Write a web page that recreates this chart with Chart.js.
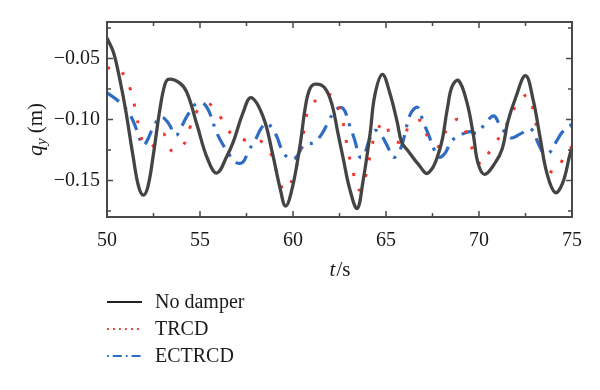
<!DOCTYPE html>
<html>
<head>
<meta charset="utf-8">
<script src="https://cdn.jsdelivr.net/npm/chart.js@4.4.1/dist/chart.umd.min.js"></script>
<style>
  html, body { margin: 0; padding: 0; background: #fff; }
  #wrap { width: 600px; height: 390px; position: relative; }
</style>
</head>
<body>
<div id="wrap"><canvas id="chart"></canvas></div>
<script>
// time samples (s) and displacement q_y (m)
const noDamperT = [50.0, 50.35, 50.7, 51.0, 51.4, 51.7, 51.95, 52.2, 52.5, 52.85, 53.1, 53.3, 53.9, 54.3, 54.85, 55.4, 55.9, 56.45, 56.8, 57.3, 57.75, 58.4, 58.9, 59.3, 59.6, 59.95, 60.4, 60.65, 60.9, 61.2, 61.7, 62.1, 62.4, 62.7, 63.05, 63.45, 63.75, 64.15, 64.4, 64.8, 65.2, 65.6, 65.85, 66.2, 66.7, 67.25, 67.9, 68.3, 68.55, 68.9, 69.35, 69.7, 69.95, 70.3, 70.85, 71.25, 71.55, 71.95, 72.5, 72.9, 73.3, 73.65, 74.1, 74.5, 74.9, 75.0];
const noDamperQ = [-0.033, -0.045, -0.068, -0.092, -0.130, -0.155, -0.162, -0.155, -0.128, -0.091, -0.072, -0.067, -0.070, -0.078, -0.105, -0.132, -0.144, -0.130, -0.118, -0.095, -0.082, -0.098, -0.128, -0.156, -0.171, -0.157, -0.119, -0.091, -0.075, -0.071, -0.074, -0.088, -0.110, -0.132, -0.157, -0.173, -0.152, -0.111, -0.080, -0.063, -0.078, -0.102, -0.119, -0.126, -0.136, -0.144, -0.124, -0.091, -0.073, -0.068, -0.086, -0.113, -0.136, -0.145, -0.136, -0.124, -0.102, -0.083, -0.064, -0.083, -0.116, -0.144, -0.160, -0.152, -0.128, -0.124];

const trcdT = [50.0, 50.4, 50.8, 51.25, 51.5, 51.7, 51.95, 52.3, 52.7, 53.05, 53.5, 54.1, 54.45, 54.85, 55.45, 56.1, 56.7, 57.45, 58.3, 58.9, 59.15, 59.45, 59.7, 60.0, 60.25, 60.5, 60.65, 60.9, 61.5, 61.8, 62.25, 62.6, 62.8, 62.95, 63.2, 63.4, 63.6, 63.76, 64.0, 64.2, 64.45, 64.95, 65.3, 65.9, 66.25, 66.9, 67.25, 67.9, 68.3, 68.9, 69.4, 69.75, 70.15, 70.65, 71.2, 71.65, 72.1, 72.65, 72.95, 73.15, 73.4, 73.6, 74.1, 74.6, 75.0];
const trcdQ = [-0.058, -0.057, -0.061, -0.075, -0.090, -0.105, -0.119, -0.123, -0.118, -0.112, -0.126, -0.121, -0.107, -0.093, -0.087, -0.098, -0.112, -0.117, -0.118, -0.131, -0.145, -0.157, -0.158, -0.147, -0.135, -0.118, -0.103, -0.090, -0.081, -0.079, -0.083, -0.097, -0.111, -0.126, -0.140, -0.155, -0.158, -0.155, -0.140, -0.126, -0.111, -0.102, -0.116, -0.118, -0.105, -0.101, -0.114, -0.122, -0.107, -0.100, -0.114, -0.128, -0.137, -0.124, -0.112, -0.099, -0.086, -0.080, -0.095, -0.110, -0.124, -0.139, -0.143, -0.130, -0.122];

const ectrcdT = [50.0, 50.7, 51.1, 51.4, 51.7, 51.9, 52.1, 52.5, 52.9, 53.3, 53.7, 54.0, 54.35, 54.8, 55.2, 55.5, 55.85, 56.1, 56.5, 56.9, 57.3, 57.6, 58.0, 58.3, 58.6, 59.1, 59.35, 59.7, 60.1, 60.6, 61.1, 61.5, 61.9, 62.3, 62.7, 63.0, 63.3, 63.6, 63.8, 64.1, 64.4, 64.7, 65.05, 65.4, 65.75, 66.0, 66.3, 66.7, 67.0, 67.3, 67.6, 67.85, 68.2, 68.5, 69.1, 69.5, 69.9, 70.4, 70.8, 71.1, 71.7, 72.2, 72.8, 73.2, 73.5, 73.8, 74.2, 74.5, 75.0];
const ectrcdQ = [-0.078, -0.086, -0.093, -0.101, -0.113, -0.121, -0.119, -0.106, -0.098, -0.103, -0.113, -0.106, -0.096, -0.087, -0.087, -0.094, -0.109, -0.117, -0.127, -0.135, -0.135, -0.126, -0.116, -0.107, -0.103, -0.113, -0.123, -0.131, -0.132, -0.121, -0.119, -0.113, -0.102, -0.092, -0.091, -0.103, -0.116, -0.131, -0.130, -0.117, -0.109, -0.112, -0.121, -0.131, -0.125, -0.113, -0.096, -0.090, -0.102, -0.113, -0.125, -0.131, -0.127, -0.118, -0.112, -0.110, -0.111, -0.102, -0.097, -0.104, -0.115, -0.112, -0.108, -0.120, -0.128, -0.127, -0.117, -0.110, -0.104];

const seriesNames = ['No damper', 'TRCD', 'ECTRCD'];
const xTicks = [50, 55, 60, 65, 70, 75];
const xMinor = [52.5, 57.5, 62.5, 67.5, 72.5];
const yTicks = [-0.15, -0.10, -0.05];
const yMinor = [-0.175, -0.125, -0.075, -0.025];

const serif = '"Liberation Serif", "DejaVu Serif", serif';
const axisColor = '#4a4a4a';
const blackLine = '#444444';
const redDot = '#f2382c';
const blueLine = '#2f6cc4';

function toPoints(ts, qs) {
    return ts.map((t, i) => ({ x: t, y: qs[i] }));
}

// frame, inward ticks, axis titles and legend
const decorPlugin = {
    id: 'decor',
    afterDatasetsDraw(chart) {
        const ctx = chart.ctx;
        const a = chart.chartArea;
        const xs = chart.scales.x;
        const ys = chart.scales.y;
        ctx.save();
        ctx.strokeStyle = axisColor;
        ctx.lineWidth = 2;
        ctx.strokeRect(a.left, a.top, a.right - a.left, a.bottom - a.top);

        ctx.lineWidth = 1.5;
        ctx.beginPath();
        const tickX = (vals, len) => vals.forEach(v => {
            const px = xs.getPixelForValue(v);
            ctx.moveTo(px, a.bottom); ctx.lineTo(px, a.bottom - len);
            ctx.moveTo(px, a.top); ctx.lineTo(px, a.top + len);
        });
        const tickY = (vals, len) => vals.forEach(v => {
            const py = ys.getPixelForValue(v);
            ctx.moveTo(a.left, py); ctx.lineTo(a.left + len, py);
            ctx.moveTo(a.right, py); ctx.lineTo(a.right - len, py);
        });
        tickX(xTicks, 6); tickX(xMinor, 4);
        tickY(yTicks, 6); tickY(yMinor, 4);
        ctx.stroke();

        // x title: t/s
        ctx.fillStyle = '#1a1a1a';
        ctx.textBaseline = 'middle';
        const xt1 = 'italic 21px ' + serif, xt2 = '21px ' + serif;
        ctx.font = xt1; const w1 = ctx.measureText('t').width;
        ctx.font = xt2; const w2 = ctx.measureText('/s').width;
        let sx = (a.left + a.right) / 2 - (w1 + w2) / 2;
        ctx.font = xt1; ctx.fillText('t', sx, 270);
        ctx.font = xt2; ctx.fillText('/s', sx + w1 + 1, 270);

        // y title: q_y (m)
        ctx.save();
        ctx.translate(36, (a.top + a.bottom) / 2 + 10);
        ctx.rotate(-Math.PI / 2);
        const f1 = 'italic 22px ' + serif, f2 = 'italic 15px ' + serif, f3 = '21px ' + serif;
        ctx.font = f1; const qW = ctx.measureText('q').width;
        ctx.font = f2; const sW = ctx.measureText('y').width;
        ctx.font = f3; const mW = ctx.measureText(' (m)').width;
        let tx = -(qW + sW + mW) / 2;
        ctx.font = f1; ctx.fillText('q', tx, 0);
        ctx.font = f2; ctx.fillText('y', tx + qW, 6);
        ctx.font = f3; ctx.fillText(' (m)', tx + qW + sW, 0);
        ctx.restore();

        // legend
        const rows = [302, 329, 356];
        const styles = [
            { color: '#222', width: 1.8, dash: [] },
            { color: redDot, width: 1.8, dash: [1.8, 4.2] },
            { color: blueLine, width: 1.8, dash: [1.8, 4, 9, 4] }
        ];
        ctx.font = '20px ' + serif;
        seriesNames.forEach((name, i) => {
            const s = styles[i];
            ctx.beginPath();
            ctx.strokeStyle = s.color;
            ctx.lineWidth = s.width;
            ctx.setLineDash(s.dash);
            ctx.moveTo(107, rows[i]); ctx.lineTo(142, rows[i]);
            ctx.stroke();
            ctx.setLineDash([]);
            ctx.fillStyle = '#1a1a1a';
            ctx.fillText(name, 155, rows[i] + 1);
        });
        ctx.restore();
    }
};

new Chart(document.getElementById('chart'), {
    type: 'line',
    data: {
        datasets: [
            {
                label: seriesNames[0],
                data: toPoints(noDamperT, noDamperQ),
                borderColor: blackLine,
                borderWidth: 3.3,
                pointRadius: 0,
                tension: 0.4,
                order: 1
            },
            {
                label: seriesNames[1],
                data: toPoints(trcdT, trcdQ),
                borderColor: redDot,
                borderWidth: 3,
                borderDash: [3, 14],
                borderCapStyle: 'butt',
                pointRadius: 0,
                tension: 0.4,
                order: 2
            },
            {
                label: seriesNames[2],
                data: toPoints(ectrcdT, ectrcdQ),
                borderColor: blueLine,
                borderWidth: 3.2,
                borderDash: [15, 8, 3, 8],
                pointRadius: 0,
                tension: 0.4,
                order: 3
            }
        ]
    },
    options: {
        responsive: true,
        maintainAspectRatio: false,
        animation: false,
        layout: { padding: { left: 30, top: 22, right: 28, bottom: 0 } },
        plugins: {
            legend: { display: false },
            tooltip: { enabled: false }
        },
        scales: {
            x: {
                type: 'linear',
                min: 50,
                max: 75,
                afterBuildTicks: s => { s.ticks = xTicks.map(v => ({ value: v })); },
                afterFit: s => { s.height = 173; },
                grid: { display: false, drawTicks: false },
                border: { display: false },
                ticks: {
                    padding: 12,
                    color: '#1a1a1a',
                    font: { family: serif, size: 20 }
                }
            },
            y: {
                min: -0.18,
                max: -0.02,
                afterBuildTicks: s => { s.ticks = yTicks.map(v => ({ value: v })); },
                afterFit: s => { s.width = 77; },
                grid: { display: false, drawTicks: false },
                border: { display: false },
                ticks: {
                    padding: 7,
                    color: '#1a1a1a',
                    font: { family: serif, size: 20 },
                    callback: v => (v < 0 ? '\u2212' : '') + Math.abs(v).toFixed(2)
                }
            }
        }
    },
    plugins: [decorPlugin]
});
</script>
</body>
</html>
